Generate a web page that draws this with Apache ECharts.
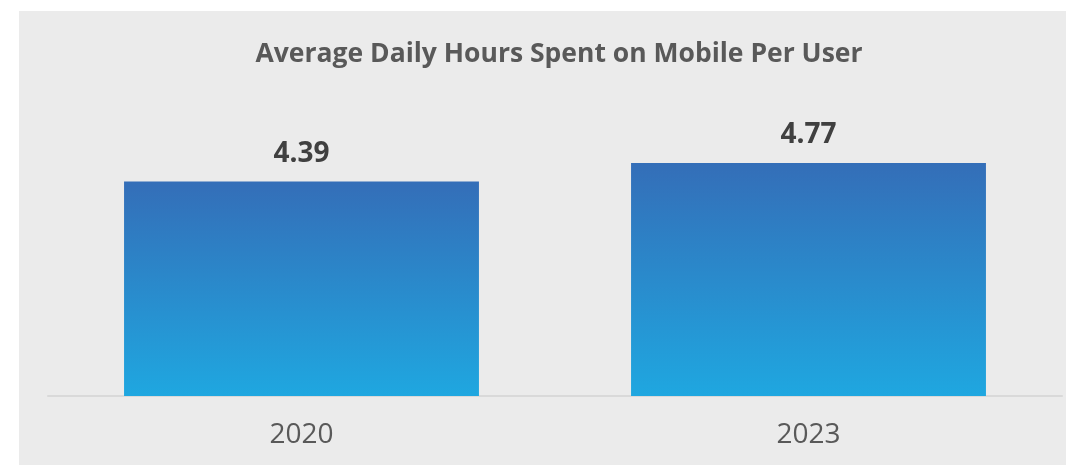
<!DOCTYPE html>
<html>
<head>
<meta charset="utf-8">
<script src="https://cdn.jsdelivr.net/npm/echarts@6/dist/echarts.min.js"></script>
<style>
  html, body { margin: 0; padding: 0; background: #ffffff; }
  #chart { position: absolute; left: 19px; top: 11px; width: 1047px; height: 454px; }
</style>
</head>
<body>
<div id="chart"></div>
<script>
// data
const years = ['2020', '2023']
const hours = [4.39, 4.77]

const chart = echarts.init(document.getElementById('chart'))
chart.setOption({
  backgroundColor: '#ebebeb',
  title: {
    text: 'Average Daily Hours Spent on Mobile Per User',
    left: 535, textAlign: 'center', top: 25,
    textStyle: { fontFamily: 'Open Sans', fontWeight: 'bold', fontSize: 26.5, color: '#595959' }
  },
  grid: { left: 29, right: 4, top: 92, bottom: 69 },
  xAxis: {
    type: 'category',
    data: years,
    axisLine: { lineStyle: { color: '#d9d9d9', width: 2 } },
    axisTick: { show: false },
    axisLabel: { fontFamily: 'Open Sans', fontSize: 28, color: '#595959', margin: 25 }
  },
  yAxis: { type: 'value', min: 0, max: 6, show: false, splitLine: { show: false } },
  series: [{
    type: 'bar',
    data: hours,
    barCategoryGap: '30%',
    itemStyle: {
      color: new echarts.graphic.LinearGradient(0, 0, 0, 1, [
        { offset: 0, color: '#346eb8' },
        { offset: 1, color: '#1fa7e0' }
      ])
    },
    label: {
      show: true, position: 'top', distance: 14,
      fontFamily: 'Open Sans', fontWeight: 'bold', fontSize: 28, color: '#404040'
    }
  }]
})
</script>
</body>
</html>
